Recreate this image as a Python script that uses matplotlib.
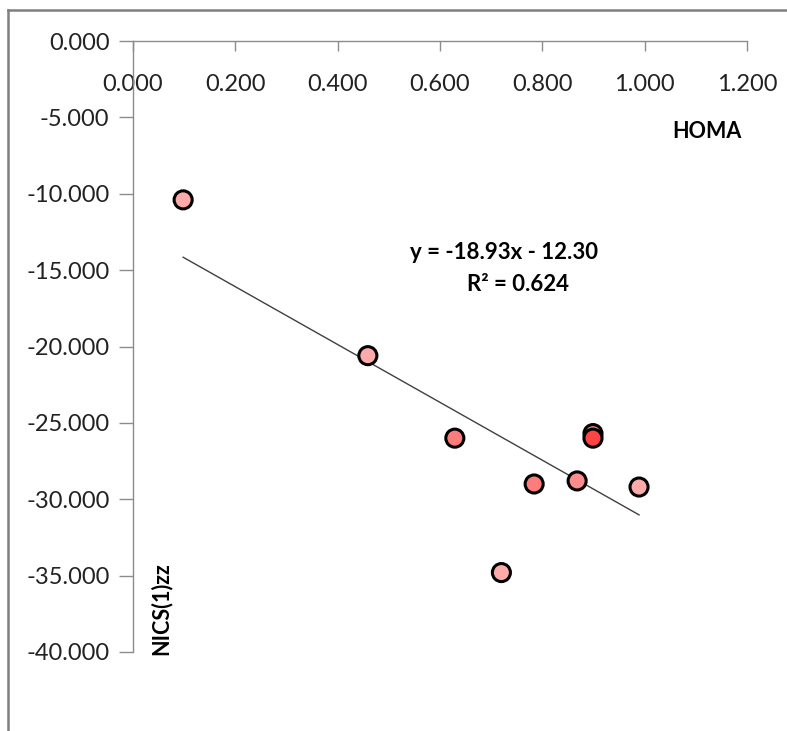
import matplotlib
matplotlib.use("Agg")
import matplotlib.pyplot as plt
from matplotlib.lines import Line2D
import numpy as np

plt.rcParams['font.family'] = ['Lato', 'DejaVu Sans']

# Data (HOMA vs NICS(1)zz)
homa = [0.098, 0.459, 0.629, 0.899, 0.899, 0.784, 0.868, 0.989, 0.720]
nics = [-10.4, -20.6, -26.0, -25.7, -26.0, -29.0, -28.8, -29.2, -34.8]
point_colors = ['#FFAAAA', '#FFAAAA', '#FF7C7C', '#FF7C7C', '#FF4444',
                '#FF7C7C', '#FF8C8C', '#FFAAAA', '#FFAAAA']
slope = -18.93
intercept = -12.30
r2 = 0.624
x_ticks = [0.0, 0.2, 0.4, 0.6, 0.8, 1.0, 1.2]
y_ticks = [0, -5, -10, -15, -20, -25, -30, -35, -40]

W, H = 787, 731
fig = plt.figure(figsize=(W / 100, H / 100), dpi=100)
ax = fig.add_axes([133 / W, 1 - 652 / H, 614 / W, 611 / H])

# points
ax.scatter(homa, nics, s=13 ** 2, c=point_colors, edgecolors='black',
           linewidths=2.2, zorder=3)

# trendline
xl = np.array([min(homa), max(homa)])
ax.plot(xl, slope * xl + intercept, color='#404040', lw=1.0, zorder=2)

ax.set_xlim(0, 1.2)
ax.set_ylim(-40, 0)
ax.set_xticks(x_ticks)
ax.set_yticks(y_ticks)
ax.set_xticklabels([f"{v:.3f}" for v in x_ticks])
ax.set_yticklabels([f"{v:.3f}" for v in y_ticks])

for s in ['top', 'right']:
    ax.spines[s].set_visible(False)
ax.spines['bottom'].set_position(('data', 0))
for s in ['bottom', 'left']:
    ax.spines[s].set_color('#8C8C8C')
    ax.spines[s].set_linewidth(1.0)

ax.tick_params(axis='x', direction='out', length=7.5, width=1.0,
               color='#8C8C8C', labelsize=17, pad=16, labelcolor='#222222')
ax.tick_params(axis='y', direction='out', length=10, width=1.0,
               color='#8C8C8C', labelsize=17, pad=7, labelcolor='#222222')

# axis titles
ax.text(707 / W, 1 - 131 / H, 'HOMA', transform=fig.transFigure,
        ha='center', va='center', fontsize=15.5, fontweight='bold')
ax.text(161 / W, 1 - 609 / H, 'NICS(1)zz', transform=fig.transFigure,
        ha='center', va='center', rotation=90, fontsize=15.5, fontweight='bold')

# equation
ax.text(504 / W, 1 - 252 / H, f"y = {slope:.2f}x - {abs(intercept):.2f}",
        transform=fig.transFigure, ha='center', va='center',
        fontsize=16, fontweight='bold')
ax.text(518 / W, 1 - 284 / H, f"R² = {r2:.3f}",
        transform=fig.transFigure, ha='center', va='center',
        fontsize=16, fontweight='bold')

# chart border (top and left)
fig.add_artist(Line2D([8 / W, 1.0], [1 - 10 / H, 1 - 10 / H],
                      transform=fig.transFigure, color='#7F7F7F', lw=1.8))
fig.add_artist(Line2D([8 / W, 8 / W], [0, 1 - 10 / H],
                      transform=fig.transFigure, color='#7F7F7F', lw=1.8))

fig.savefig('out.png', dpi=100)
